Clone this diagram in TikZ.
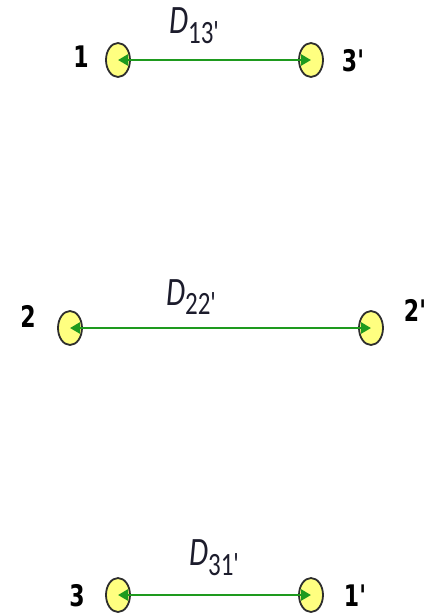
\documentclass[tikz,border=0pt]{standalone}
\usepackage{fontspec}
\usepackage{graphicx}
\setmainfont{DejaVu Sans}
\newfontfamily\distfont{Carlito}
\usetikzlibrary{shapes.geometric,arrows.meta}
\definecolor{condfill}{HTML}{FFFF80}
\definecolor{condline}{HTML}{2E2E2E}
\definecolor{linkgreen}{HTML}{1E9A1E}
\definecolor{distblue}{HTML}{1C1C2C}
\tikzset{
  cond/.style={ellipse,draw=condline,line width=1.8pt,fill=condfill,
    minimum width=24pt,minimum height=34pt,inner sep=0pt},
  tag/.style={font=\fontsize{22}{22}\selectfont\bfseries,inner sep=0pt},
  dist/.style={font=\distfont\itshape\fontsize{31}{31}\selectfont,text=distblue,inner sep=0pt},
  link/.style={draw=linkgreen,line width=2.5pt,{Triangle[length=10pt,width=11pt]}-{Triangle[length=10pt,width=11pt]}}
}
% stretched text, as in the reference
\newcommand{\tall}[2][1.35]{\scalebox{1}[#1]{#2}}
\newcommand{\dsub}[1]{\raisebox{-7.5pt}{\upshape\fontsize{25}{25}\selectfont #1}}
\newcommand{\pr}{\textquotesingle}
\begin{document}
\begin{tikzpicture}[x=1pt,y=-1pt]
    \useasboundingbox (0,0) rectangle (434,614);
    % Row 1: conductors 1 and 3'
    \node[cond] (c1) at (118,60) {};
    \node[cond] (c3p) at (311,60) {};
    \node[tag] (t1) at (81,57) {\tall{1}};
    \node[tag] (t3p) at (353,61) {\tall{3\pr}};
    \draw[link] (c1.center) -- (c3p.center);
    \node[dist] (d13) at (194,26) {\tall[1.3]{D\dsub{13\pr}}};
    % Row 2: conductors 2 and 2'
    \node[cond] (c2) at (70,328) {};
    \node[cond] (c2p) at (371,328) {};
    \node[tag] (t2) at (28,316) {\tall{2}};
    \node[tag] (t2p) at (415,310) {\tall{2\pr}};
    \draw[link] (c2.center) -- (c2p.center);
    \node[dist] (d22) at (191,297) {\tall[1.3]{D\dsub{22\pr}}};
    % Row 3: conductors 3 and 1'
    \node[cond] (c3) at (118,595) {};
    \node[cond] (c1p) at (311,595) {};
    \node[tag] (t3) at (77,596) {\tall{3}};
    \node[tag] (t1p) at (355,596) {\tall{1\pr}};
    \draw[link] (c3.center) -- (c1p.center);
    \node[dist] (d31) at (214,558) {\tall[1.3]{D\dsub{31\pr}}};
\end{tikzpicture}
\end{document}
